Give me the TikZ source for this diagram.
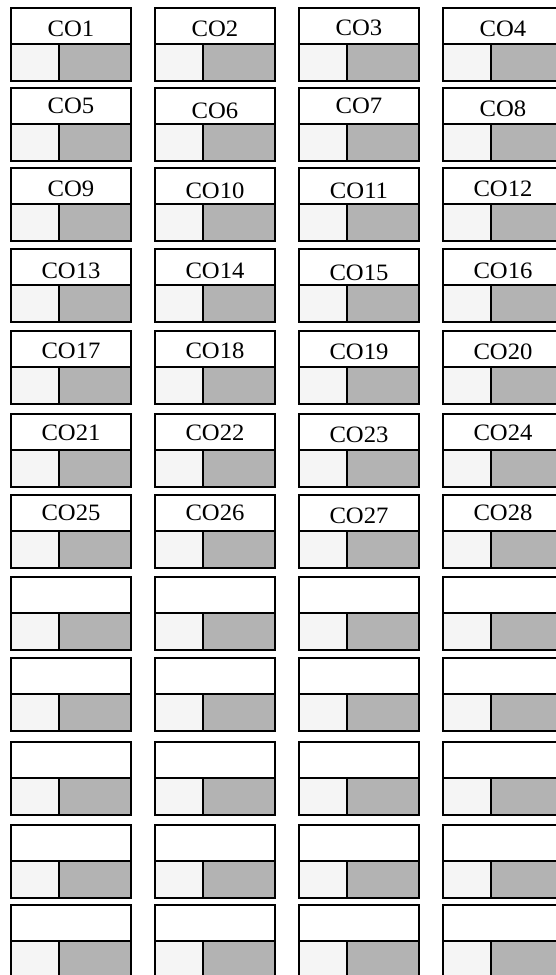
\documentclass[tikz,border=0pt]{standalone}
\usepackage{fontspec}
\setmainfont{Liberation Serif}
\definecolor{lightcell}{HTML}{F5F5F5}
\definecolor{darkcell}{HTML}{B3B3B3}
\begin{document}
\begin{tikzpicture}[x=1pt,y=-1pt,
  cellline/.style={draw=black, line width=1.3pt},
  colabel/.style={font=\fontsize{23.5}{23.5}\selectfont, inner sep=0pt, anchor=center}]
\useasboundingbox (0,0) rectangle (556,975);
\foreach \r/\t in {1/8,2/88,3/168,4/249,5/331,6/414,7/495,8/577,9/658,10/742,11/825,12/905} {
  \foreach \c/\l in {1/11,2/155,3/299,4/443} {
    \fill[white] (\l,\t) rectangle ++(120,36);
    \fill[lightcell] (\l,\t+36) rectangle ++(48,37);
    \fill[darkcell] (\l+48,\t+36) rectangle ++(72,37);
    \draw[cellline] (\l,\t) rectangle ++(120,73);
    \draw[cellline] (\l,\t+36) -- ++(120,0);
    \draw[cellline] (\l+48,\t+36) -- ++(0,37);
  }
}
\foreach \n/\l/\t/\dy in {
  1/11/8/3, 2/155/8/2.5, 3/299/8/2, 4/443/8/2.5,
  5/11/88/0, 6/155/88/4.5, 7/299/88/0, 8/443/88/3,
  9/11/168/3, 10/155/168/5, 11/299/168/5, 12/443/168/3,
  13/11/249/4, 14/155/249/4, 15/299/249/6, 16/443/249/4,
  17/11/331/2, 18/155/331/2, 19/299/331/3, 20/443/331/3,
  21/11/414/1.3, 22/155/414/0.5, 23/299/414/3, 24/443/414/1,
  25/11/495/0, 26/155/495/0, 27/299/495/3, 28/443/495/0} {
  \node[colabel] (co\n) at (\l+60,\t+18+\dy) {\scalebox{1.05}[1]{CO\n}};
}
\end{tikzpicture}
\end{document}
